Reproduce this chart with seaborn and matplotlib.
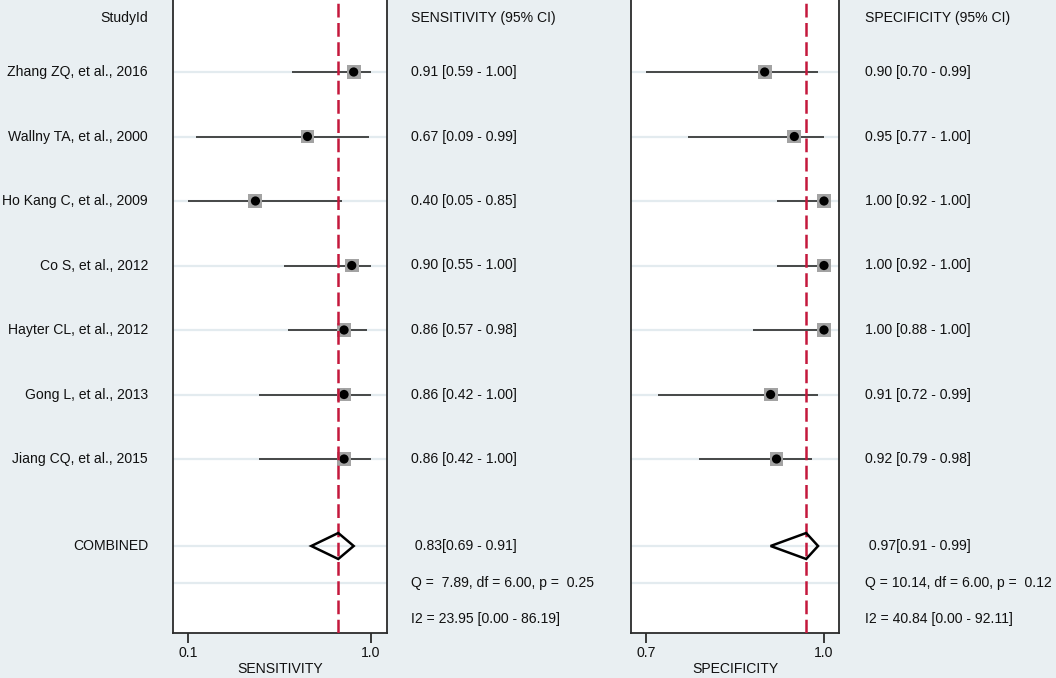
"""
Forest plot of sensitivity / specificity per study (bivariate meta-analysis).
"""
import matplotlib
matplotlib.use("Agg")

import numpy as np
import pandas as pd
import matplotlib.pyplot as plt
import matplotlib.transforms as mtransforms
import seaborn as sns

# ── Data ──────────────────────────────────────────────────────────────────────
studies = [
    "Zhang ZQ, et al., 2016",
    "Wallny TA, et al., 2000",
    "Ho Kang C, et al., 2009",
    "Co S, et al., 2012",
    "Hayter CL, et al., 2012",
    "Gong L, et al., 2013",
    "Jiang CQ, et al., 2015",
]
sens = [0.91, 0.67, 0.40, 0.90, 0.86, 0.86, 0.86]
sens_lo = [0.59, 0.09, 0.05, 0.55, 0.57, 0.42, 0.42]
sens_hi = [1.00, 0.99, 0.85, 1.00, 0.98, 1.00, 1.00]
spec = [0.90, 0.95, 1.00, 1.00, 1.00, 0.91, 0.92]
spec_lo = [0.70, 0.77, 0.92, 0.92, 0.88, 0.72, 0.79]
spec_hi = [0.99, 1.00, 1.00, 1.00, 1.00, 0.99, 0.98]

sens_pooled = [0.83, 0.69, 0.91]
spec_pooled = [0.97, 0.91, 0.99]
sens_het = ["Q =  7.89, df = 6.00, p =  0.25", "I2 = 23.95 [0.00 - 86.19]"]
spec_het = ["Q = 10.14, df = 6.00, p =  0.12", "I2 = 40.84 [0.00 - 92.11]"]

# ── Style ─────────────────────────────────────────────────────────────────────
BG = "#e9eff2"
GRID = "#e3ebef"
REF = "#c4183c"
INK = "#2b2b2b"
TXT = "#111111"
FS = 10.1
W, H = 1056, 678

sns.set_theme(style="white")
plt.rcParams["font.family"] = ["Liberation Sans", "DejaVu Sans"]
plt.rcParams.update({
    "font.size": FS,
    "text.color": TXT,
    "axes.labelcolor": TXT,
    "xtick.color": TXT,
})

fig = plt.figure(figsize=(W / 100, H / 100), dpi=100, facecolor=BG)

# rows laid out in pixel units from the top of the panels
row_y = 72 + 64.5 * np.arange(len(studies))
head_y, comb_y, q_y, i2_y = 18, 546, 583, 619
PANEL_H = 633


def panel(x0, x1, est, lo, hi, pooled, het, label, head, text_x, xlim):
    ax = fig.add_axes([x0 / W, (H - PANEL_H) / H, (x1 - x0) / W, PANEL_H / H])
    ax.set_facecolor("white")
    ax.set_xlim(*xlim)
    ax.set_ylim(PANEL_H, 0)

    for y in list(row_y) + [comb_y, q_y]:
        ax.axhline(y, color=GRID, lw=1.6, zorder=0)

    ax.hlines(row_y, lo, hi, color=INK, lw=1.2, zorder=2)
    df = pd.DataFrame({"est": est, "y": row_y})
    sns.scatterplot(data=df, x="est", y="y", marker="s", s=100, color="#a3a3a3",
                    edgecolor="none", ax=ax, zorder=3, legend=False)
    sns.scatterplot(data=df, x="est", y="y", marker="o", s=44, color="black",
                    edgecolor="none", ax=ax, zorder=4, legend=False)

    p, plo, phi = pooled
    ax.axvline(p, color=REF, lw=1.8, ls=(0, (5.5, 2.2)), zorder=5)
    ax.fill([plo, p, phi, p], [comb_y, comb_y - 13, comb_y, comb_y + 13],
            facecolor="none", edgecolor="black", lw=1.8, zorder=6)

    for side in ("left", "right", "bottom"):
        ax.spines[side].set_color(INK)
        ax.spines[side].set_linewidth(1.3)
    ax.spines["top"].set_visible(False)

    ticks = [min(lo), 1.0]
    ax.set_xticks(ticks)
    ax.set_xticklabels([f"{t:.1f}" for t in ticks])
    ax.tick_params(axis="x", direction="out", length=7, width=1.3, color=INK,
                   pad=2.5, labelsize=FS, bottom=True)
    ax.set_yticks([])
    ax.set_xlabel(label, fontsize=FS, labelpad=1.5)
    ax.set_ylabel("")

    tr = mtransforms.blended_transform_factory(fig.transFigure, ax.transData)
    tx = text_x / W
    ax.text(tx, head_y, head, transform=tr, va="center", ha="left")
    for y, e, l, h in zip(row_y, est, lo, hi):
        ax.text(tx, y, f"{e:.2f} [{l:.2f} - {h:.2f}]", transform=tr,
                va="center", ha="left")
    ax.text(tx, comb_y, f" {p:.2f}[{plo:.2f} - {phi:.2f}]", transform=tr,
            va="center", ha="left")
    ax.text(tx, q_y, het[0], transform=tr, va="center", ha="left")
    ax.text(tx, i2_y, het[1], transform=tr, va="center", ha="left")
    return ax, tr


ax1, tr1 = panel(173, 387, sens, sens_lo, sens_hi, sens_pooled, sens_het,
                 "SENSITIVITY", "SENSITIVITY (95% CI)", 411, (-0.028, 1.083))
ax2, _ = panel(631, 839, spec, spec_lo, spec_hi, spec_pooled, spec_het,
               "SPECIFICITY", "SPECIFICITY (95% CI)", 865, (0.6747, 1.0253))

# study labels to the left of the sensitivity panel
lx = 148 / W
ax1.text(lx, head_y, "StudyId", transform=tr1, va="center", ha="right")
for y, name in zip(row_y, studies):
    ax1.text(lx, y, name, transform=tr1, va="center", ha="right")
ax1.text(lx, comb_y, "COMBINED", transform=tr1, va="center", ha="right")

fig.savefig("out.png", dpi=100, facecolor=BG)
